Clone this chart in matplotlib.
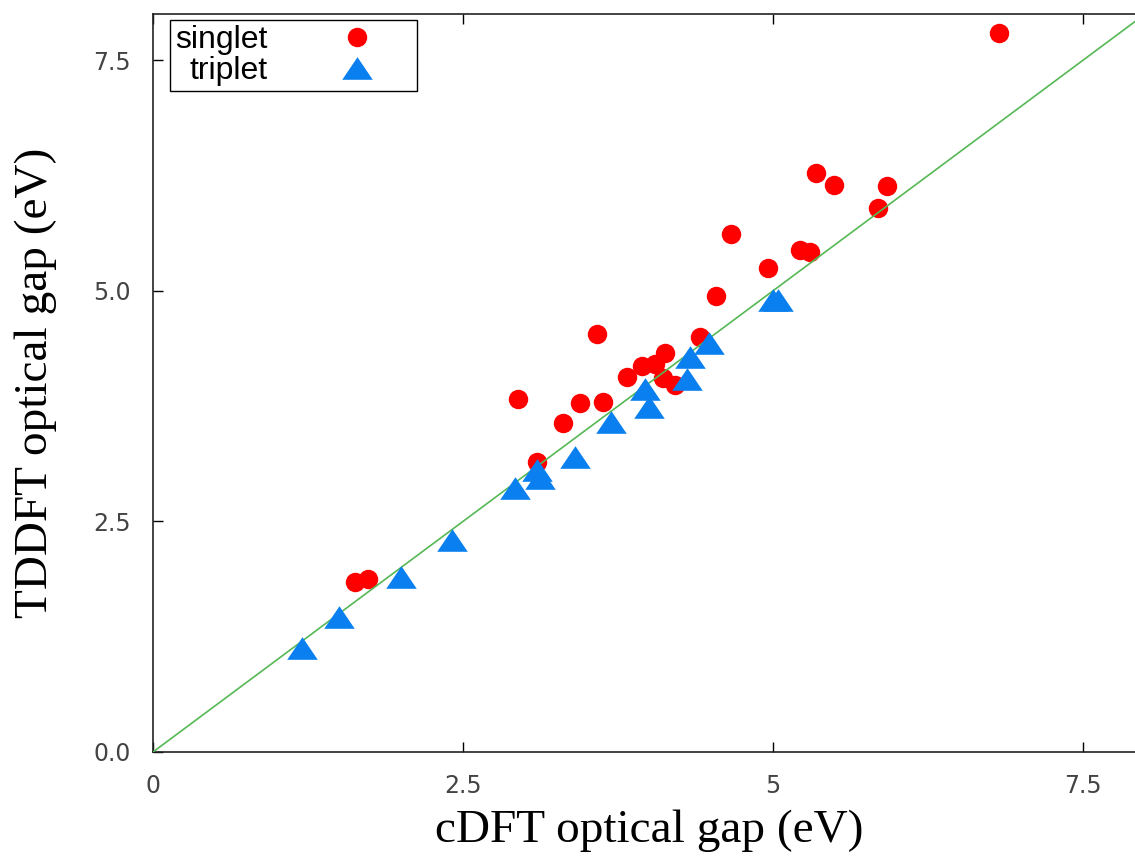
import matplotlib
matplotlib.use("Agg")
import matplotlib.pyplot as plt
from matplotlib.ticker import FuncFormatter

# cDFT vs TDDFT optical gaps (eV)
singlet_cdft = [1.63, 1.73, 2.94, 3.10, 3.31, 3.44, 3.58, 3.63, 3.82, 3.94,
                4.05, 4.11, 4.13, 4.21, 4.41, 4.54, 4.66, 4.96, 5.22, 5.30,
                5.35, 5.49, 5.85, 5.92, 6.82]
singlet_tddft = [1.84, 1.88, 3.83, 3.14, 3.57, 3.78, 4.53, 3.80, 4.07, 4.19,
                 4.21, 4.06, 4.33, 3.98, 4.50, 4.94, 5.62, 5.25, 5.44, 5.42,
                 6.28, 6.15, 5.90, 6.14, 7.79]

triplet_cdft = [1.20, 1.50, 2.00, 2.41, 2.92, 3.10, 3.12, 3.40, 3.69, 3.97,
                4.00, 4.31, 4.33, 4.48, 5.00, 5.04]
triplet_tddft = [1.13, 1.46, 1.90, 2.30, 2.86, 3.06, 2.97, 3.20, 3.58, 3.94,
                 3.74, 4.04, 4.28, 4.43, 4.90, 4.90]

diag = [0, 8]
ticks = [0, 2.5, 5, 7.5]

# flat triangle like gnuplot's
tri = [(0, 0.74), (-1, -0.74), (1, -0.74), (0, 0.74)]

fig = plt.figure(figsize=(11.35, 8.56), dpi=100)
ax = fig.add_axes([0.1348, 0.1215, 0.874, 0.862])

ax.plot(singlet_cdft, singlet_tddft, linestyle="none", marker="o",
        markersize=14, color="#ff0000", markeredgewidth=0, label="singlet",
        zorder=2)
ax.plot(diag, diag, color="#55b855", linewidth=1.2, zorder=3)
ax.plot(triplet_cdft, triplet_tddft, linestyle="none", marker=tri,
        markersize=22, color="#0a80f0", markeredgewidth=0, label="triplet",
        zorder=4)

ax.set_xlim(0, 8)
ax.set_ylim(0, 8)
ax.set_xticks(ticks)
ax.set_yticks(ticks)
ax.xaxis.set_major_formatter(FuncFormatter(lambda v, p: "%g" % v))
ax.yaxis.set_major_formatter(FuncFormatter(lambda v, p: "%.1f" % v))
ax.tick_params(direction="in", length=7, width=1, top=True, right=True,
               labelsize=17, labelcolor="#444444", pad=16)
for lab in ax.get_xticklabels() + ax.get_yticklabels():
    lab.set_fontfamily("DejaVu Sans")
for sp in ax.spines.values():
    sp.set_linewidth(1.2)
    sp.set_color("#222222")

ax.set_xlabel("cDFT optical gap (eV)", fontsize=34, family="Liberation Serif")
ax.set_ylabel("TDDFT optical gap (eV)", fontsize=34, family="Liberation Serif")
ax.xaxis.set_label_coords(0.5, -0.078)
ax.yaxis.set_label_coords(-0.097, 0.5)

leg = ax.legend(loc="upper left", bbox_to_anchor=(0.0171, 0.9919),
                borderaxespad=0, markerfirst=False, fancybox=False,
                framealpha=1, edgecolor="black", numpoints=1,
                prop={"family": "Liberation Sans", "size": 23},
                borderpad=0.15, labelspacing=0.05, handlelength=3.5,
                handletextpad=1.05)
leg.get_frame().set_linewidth(1.0)

fig.savefig("out.png", dpi=100)
